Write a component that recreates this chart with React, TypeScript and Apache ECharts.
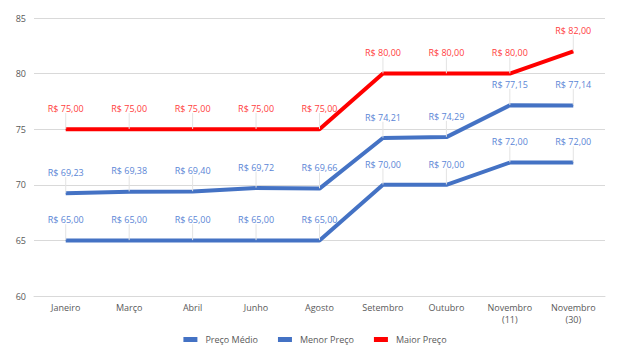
import React, { useEffect, useRef } from "react";
import * as echarts from "echarts";

const categories = ["Janeiro", "Março", "Abril", "Junho", "Agosto", "Setembro", "Outubro", "Novembro\n(11)", "Novembro\n(30)"];
const precoMedio = [69.23, 69.38, 69.4, 69.72, 69.66, 74.21, 74.29, 77.15, 77.14];
const menorPreco = [65, 65, 65, 65, 65, 70, 70, 72, 72];
const maiorPreco = [75, 75, 75, 75, 75, 80, 80, 80, 82];
const yTicks = { min: 60, max: 85, interval: 5 };

const FONT = "'Open Sans', 'Noto Sans', sans-serif";
const fmt = (v: number) => "R$ " + v.toFixed(2).replace(".", ",");

export default function App() {
  const ref = useRef<HTMLDivElement>(null);
  useEffect(() => {
    if (!ref.current) return;
    const chart = echarts.init(ref.current, null, { renderer: "svg" });
    const mk = (name: string, data: number[], color: string, labelColor: string) => ({
      name,
      type: "line",
      data,
      symbol: "circle",
      symbolSize: 0.5,
      showSymbol: true,
      lineStyle: { color, width: 4, cap: "butt" },
      itemStyle: { color },
      label: {
        show: true,
        position: "top",
        distance: 5,
        color: labelColor,
        fontSize: 9,
        fontFamily: FONT,
        formatter: (p: any) => fmt(p.value),
      },
      labelLayout: { dy: -11 },
      labelLine: { show: true, lineStyle: { color: "#E3E3E3", width: 1 } },
      emphasis: { disabled: true },
    });
    chart.setOption({
      animation: false,
      textStyle: { fontFamily: FONT },
      grid: { left: 34, right: 25, top: 18, bottom: 68, containLabel: false },
      xAxis: {
        type: "category",
        data: categories,
        boundaryGap: true,
        axisLine: { show: true, lineStyle: { color: "#D9D9D9", width: 1 } },
        axisTick: { show: false },
        axisLabel: { color: "#595959", fontSize: 9, fontFamily: FONT, margin: 5, lineHeight: 12 },
      },
      yAxis: {
        type: "value",
        min: yTicks.min,
        max: yTicks.max,
        interval: yTicks.interval,
        axisLine: { show: false },
        axisTick: { show: false },
        axisLabel: { color: "#595959", fontSize: 9, fontFamily: FONT, margin: 8 },
        splitLine: { lineStyle: { color: "#D9D9D9", width: 1 } },
      },
      legend: {
        bottom: 15,
        left: "center",
        icon: "rect",
        itemWidth: 14,
        itemHeight: 5,
        itemGap: 20,
        textStyle: { color: "#595959", fontSize: 9, fontFamily: FONT, padding: [0, 0, 0, 3] },
        data: ["Preço Médio", "Menor Preço", "Maior Preço"],
      },
      series: [
        mk("Preço Médio", precoMedio, "#4472C4", "#5B86D6"),
        mk("Menor Preço", menorPreco, "#4472C4", "#5B86D6"),
        mk("Maior Preço", maiorPreco, "#FF0000", "#FF4040"),
      ],
    });
    return () => chart.dispose();
  }, []);
  return <div ref={ref} style={{ width: 630, height: 364, margin: -8 }} />;
}
